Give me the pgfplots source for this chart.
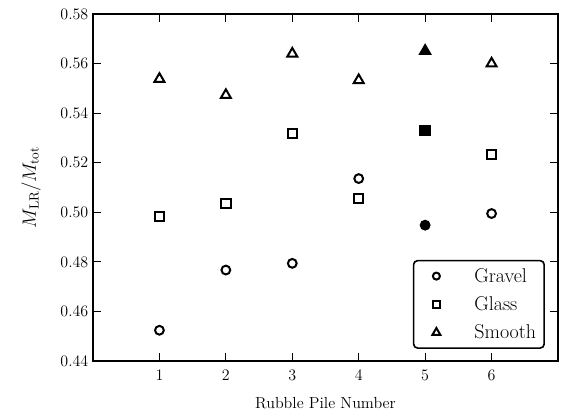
\documentclass[border=0pt]{standalone}
\usepackage{pgfplots}
\pgfplotsset{compat=1.18}

\pgfplotstableread{
x y
1 0.4524
2 0.4767
3 0.4794
4 0.5136
6 0.4995
}\gravel
\pgfplotstableread{
x y
1 0.4982
2 0.5036
3 0.5318
4 0.5055
6 0.5234
}\glass
\pgfplotstableread{
x y
1 0.5538
2 0.5473
3 0.5640
4 0.5533
6 0.5600
}\smooth
\pgfplotstableread{
x g gl s
5 0.4948 0.5331 0.5651
}\pilefive

\begin{document}
\begin{tikzpicture}
\begin{axis}[
    name=ax,
    scale only axis,
    width=348.75pt,
    height=260.25pt,
    xmin=0, xmax=7,
    ymin=0.44, ymax=0.58,
    xtick={1,2,3,4,5,6},
    ytick={0.44,0.46,...,0.581},
    yticklabel style={/pgf/number format/fixed,/pgf/number format/fixed zerofill,/pgf/number format/precision=2},
    tick label style={font=\large},
    xticklabel style={yshift=-3pt},
    tick align=inside,
    major tick length=6pt,
    tick style={black, line width=0.8pt},
    axis line style={line width=1.5pt},
    xlabel={Rubble Pile Number},
    xlabel style={font=\large, yshift=-6pt},
    ylabel={$M_{\rm LR}/M_{\rm tot}$},
    ylabel style={font=\Large},
    ylabel shift=8pt,
    every mark/.append style={line width=1.5pt},
    every axis plot/.append style={only marks, black, line width=1.5pt, mark size=3.3pt,
      legend image code/.code={\path[draw=none] (-0.21cm,0cm) (1.18cm,0cm);
        \draw[##1, only marks, line width=1.5pt, mark options={scale=0.8, line width=1.5pt}]
        plot coordinates {(0.25cm,0cm)};}},
    legend style={at={(0.972,0.035)}, anchor=south east, draw=black,
      line width=1.2pt, rounded corners=3pt, font=\fontsize{15}{18}\selectfont,
      inner xsep=4pt, inner ysep=1pt,
      nodes={inner ysep=4.6pt}},
    legend cell align=left,
    ]
\addplot [mark=o] table[x=x,y=y] {\gravel};
\addplot [mark=square, mark size=3.5pt] table[x=x,y=y] {\glass};
\addplot [mark=triangle, mark size=4.3pt] table[x=x,y=y] {\smooth};
\addplot [mark=*, forget plot] table[x=x,y=g] {\pilefive};
\addplot [mark=square*, mark size=3.5pt, forget plot] table[x=x,y=gl] {\pilefive};
\addplot [mark=triangle*, mark size=4.3pt, forget plot] table[x=x,y=s] {\pilefive};
\legend{Gravel,Glass,Smooth}
\end{axis}
\pgfresetboundingbox
\path[use as bounding box] (ax.south west) ++(-69.75pt,-41.25pt) rectangle ([shift={(12pt,10.5pt)}]ax.north east);
\end{tikzpicture}
\end{document}
